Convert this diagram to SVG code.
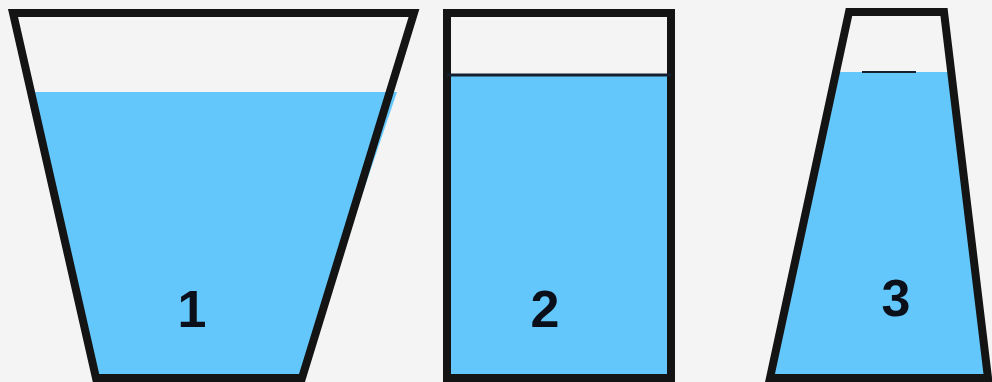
<svg xmlns="http://www.w3.org/2000/svg" width="992" height="382" viewBox="0 0 992 382">
<style>
.water{fill:#63c7fb}
.wall{fill:none;stroke:#141414;stroke-width:8;stroke-linejoin:miter}
.lbl{font-family:"Liberation Sans",Arial,sans-serif;font-weight:bold;font-size:52px;fill:#0a0f1a;text-anchor:middle}
</style>
<rect width="992" height="382" fill="#f4f4f4"/>
<g id="container1">
<polygon class="water" points="33,92 397,92 300,378 98,378"/>
<polygon class="wall" points="13,13 414,13 302,378 96,378"/>
<text class="lbl" x="192" y="327">1</text>
</g>
<g id="container2">
<rect class="water" x="446" y="75" width="226" height="303"/>
<rect class="wall" x="447" y="13" width="224" height="365"/>
<line x1="447" y1="75" x2="671" y2="75" stroke="#142030" stroke-width="3"/>
<text class="lbl" x="545" y="327">2</text>
</g>
<g id="container3">
<polygon class="water" points="833,72 951,72 988,378 770,378"/>
<polygon class="wall" points="849,12 944,12 988,378 770,378"/>
<line x1="862" y1="72" x2="916" y2="72" stroke="#142030" stroke-width="2"/>
<text class="lbl" x="896" y="316">3</text>
</g>
</svg>
